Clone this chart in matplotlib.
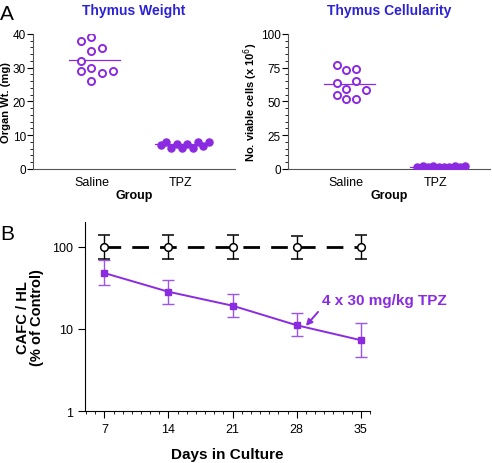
import numpy as np
import matplotlib
matplotlib.use("Agg")
import matplotlib.pyplot as plt
from matplotlib.ticker import MultipleLocator, FixedLocator, NullFormatter

plt.rcParams['font.family'] = ['Liberation Sans', 'DejaVu Sans']

PURPLE = '#8a2be2'
BLUE = '#2b22d6'

groups = ['Saline', 'TPZ']

# Thymus weight (mg)
wt_saline = [38.0, 39.0, 34.9, 35.8, 31.9, 28.9, 29.9, 28.5, 28.9, 25.9]
wt_saline_dx = [-0.12, 0.0, 0.0, 0.12, -0.12, -0.12, 0.0, 0.12, 0.24, 0.0]
wt_tpz = [7.2, 7.9, 6.2, 7.4, 6.2, 7.4, 6.2, 7.9, 6.9, 7.9]
wt_tpz_dx = [-0.22, -0.16, -0.10, -0.04, 0.02, 0.08, 0.14, 0.20, 0.26, 0.32]
wt_means = [32.2, 7.3]

# Thymus cellularity (x 10^6)
cell_saline = [77.0, 73.3, 73.6, 63.5, 64.7, 59.3, 58.5, 55.0, 51.4, 51.9]
cell_saline_dx = [-0.11, 0.0, 0.11, -0.11, 0.11, 0.0, 0.22, -0.11, 0.0, 0.11]
cell_tpz = [1.5, 2.2, 1.2, 1.8, 1.0, 1.6, 1.1, 1.9, 1.4, 2.4]
cell_tpz_dx = [-0.20, -0.14, -0.08, -0.02, 0.04, 0.10, 0.16, 0.22, 0.28, 0.34]
cell_means = [62.7, 1.6]

# CAFC / HL
days = [7, 14, 21, 28, 35]
ctrl = [100, 100, 100, 100, 100]
ctrl_lo = [71, 71, 71, 72, 71]
ctrl_hi = [140, 140, 140, 137, 140]
tpz = [48, 28.4, 19.2, 11.1, 7.3]
tpz_lo = [34, 20, 14, 8.2, 4.5]
tpz_hi = [69, 40, 27, 15.8, 11.9]

fig = plt.figure(figsize=(4.92, 4.64), dpi=100)


def scatter_panel(ax, saline, sdx, tp, tdx, means, ylim, major, minor, ylabel, title):
    x0 = np.zeros(len(saline)) + np.array(sdx)
    x1 = np.ones(len(tp)) + np.array(tdx)
    ax.scatter(x0, saline, s=26, facecolors='white', edgecolors=PURPLE, linewidths=1.4, zorder=3)
    ax.scatter(x1, tp, s=26, color=PURPLE, zorder=3)
    ax.plot([-0.25, 0.32], [means[0]] * 2, color=PURPLE, lw=0.9, zorder=2)
    ax.plot([0.72, 1.33], [means[1]] * 2, color=PURPLE, lw=0.9, zorder=2)
    ax.set_xlim(-0.66, 1.62)
    ax.set_ylim(*ylim)
    ax.set_xticks([0, 1])
    ax.set_xticklabels(groups, fontsize=9)
    ax.tick_params(axis='x', length=0, pad=5)
    ax.yaxis.set_major_locator(MultipleLocator(major))
    ax.yaxis.set_minor_locator(MultipleLocator(minor))
    ax.tick_params(axis='y', which='major', length=4, labelsize=8.5, pad=1)
    ax.tick_params(axis='y', which='minor', length=2)
    for s in ['top', 'right']:
        ax.spines[s].set_visible(False)
    ax.spines['left'].set_color('#555555')
    ax.spines['bottom'].set_color('#555555')
    ax.set_xlabel('Group', fontsize=9, fontweight='bold', labelpad=1)
    ax.set_ylabel(ylabel, fontsize=8, fontweight='bold', labelpad=1)
    ax.set_title(title, fontsize=10, fontweight='bold', color=BLUE, pad=14)


ax1 = fig.add_axes([0.067, 0.634, 0.411, 0.291])
scatter_panel(ax1, wt_saline, wt_saline_dx, wt_tpz, wt_tpz_dx, wt_means,
              (0, 40), 10, 2, 'Organ Wt. (mg)', 'Thymus Weight')

ax2 = fig.add_axes([0.585, 0.634, 0.411, 0.291])
scatter_panel(ax2, cell_saline, cell_saline_dx, cell_tpz, cell_tpz_dx, cell_means,
              (0, 100), 25, 5, r'No. viable cells (x 10$^6$)', 'Thymus Cellularity')

ax3 = fig.add_axes([0.173, 0.112, 0.579, 0.407])
ctrl_err = [np.array(ctrl) - np.array(ctrl_lo), np.array(ctrl_hi) - np.array(ctrl)]
tpz_err = [np.array(tpz) - np.array(tpz_lo), np.array(tpz_hi) - np.array(tpz)]
ax3.errorbar(days, ctrl, yerr=ctrl_err, fmt='o', color='black', mfc='white', mec='black',
             ms=5.5, mew=1.1, ecolor='black', elinewidth=1.0, capsize=4, capthick=1.0, zorder=3)
ax3.plot(days, ctrl, color='black', lw=2.0, dashes=(6, 4), zorder=2)
ax3.errorbar(days, tpz, yerr=tpz_err, fmt='s', color=PURPLE, ms=5, ecolor='#9b55e8',
             elinewidth=1.0, capsize=4, capthick=1.0, zorder=3)
ax3.plot(days, tpz, color=PURPLE, lw=1.4, zorder=2)
ax3.set_yscale('log')
ax3.set_ylim(1, 200)
ax3.set_xlim(4.9, 36)
ax3.set_yticks([1, 10, 100])
ax3.set_yticklabels(['1', '10', '100'])
ax3.yaxis.set_minor_locator(FixedLocator([]))
ax3.yaxis.set_minor_formatter(NullFormatter())
ax3.set_xticks(days)
ax3.xaxis.set_minor_locator(MultipleLocator(1))
ax3.tick_params(axis='both', which='major', length=5, labelsize=9)
ax3.tick_params(axis='x', which='minor', length=2.5)
for s in ['top', 'right']:
    ax3.spines[s].set_visible(False)
ax3.set_xlabel('Days in Culture', fontsize=11, fontweight='bold', labelpad=9)
ax3.set_ylabel('CAFC / HL\n(% of Control)', fontsize=10.5, fontweight='bold', labelpad=6,
               linespacing=1.0)
ax3.annotate('4 x 30 mg/kg TPZ', xy=(29.0, 10.9), xytext=(30.8, 22.5),
             fontsize=11, fontweight='bold', color=PURPLE, ha='left', va='center',
             arrowprops=dict(arrowstyle='-|>', color=PURPLE, lw=1.4, relpos=(0.0, 0.0),
                             shrinkA=2, shrinkB=0, mutation_scale=9))

fig.text(0.0, 0.957, 'A', fontsize=15)
fig.text(0.0, 0.483, 'B', fontsize=15)

fig.savefig('out.png', dpi=100)
